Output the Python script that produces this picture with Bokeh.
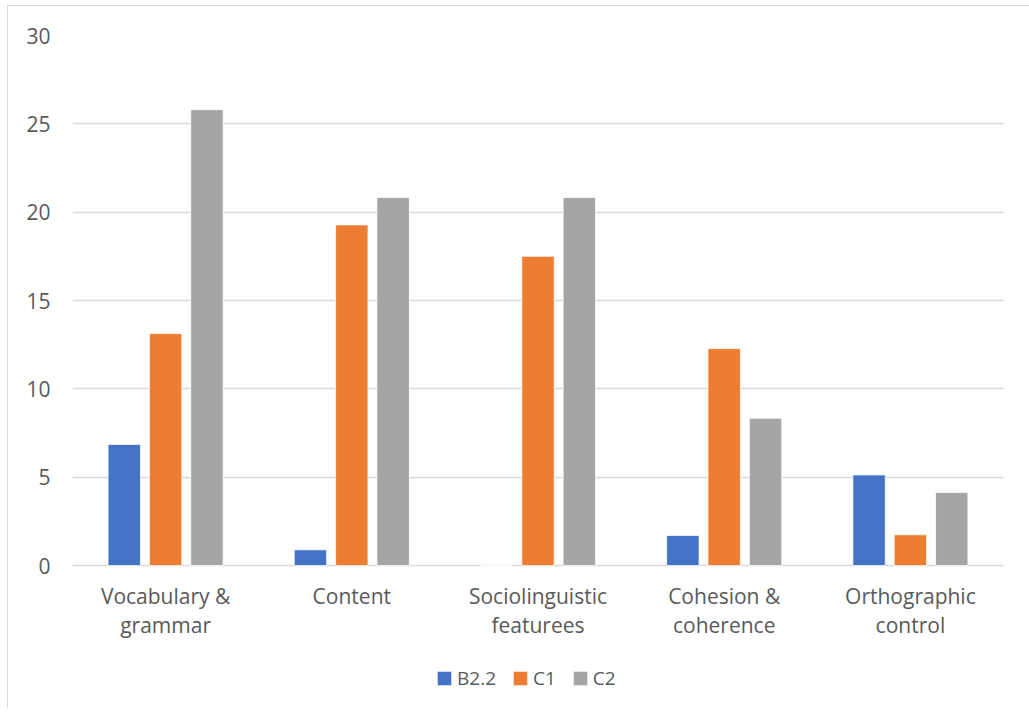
from bokeh.plotting import figure
from bokeh.models import ColumnDataSource, Range1d, FactorRange, Legend, LegendItem, FixedTicker
from bokeh.core.properties import value
from bokeh.transform import dodge
from bokeh.embed import file_html
from bokeh.resources import INLINE

categories = ["Vocabulary &\ngrammar", "Content", "Sociolinguistic\nfeaturees", "Cohesion &\ncoherence", "Orthographic\ncontrol"]
b22 = [6.85, 0.89, 0.0, 1.70, 5.13]
c1 = [13.13, 19.28, 17.5, 12.28, 1.74]
c2 = [25.8, 20.83, 20.83, 8.34, 4.13]
series_names = ["B2.2", "C1", "C2"]
colors = ["#4472C4", "#ED7D31", "#A5A5A5"]
y_ticks = [0, 5, 10, 15, 20, 25, 30]

src = ColumnDataSource(dict(cat=categories, b22=b22, c1=c1, c2=c2, zero=[0] * len(categories)))

FONT = "Open Sans"
TXT = "#595959"

# frame extends below zero to hold category labels and legend (0..30 -> 530 px)
p = figure(x_range=FactorRange(*categories), y_range=Range1d(-8.09, 30),
           frame_width=931, frame_height=673, output_backend="svg", toolbar_location=None,
           x_axis_location=None,
           min_border_left=64, min_border_right=26, min_border_top=29, min_border_bottom=0)
p.margin = (5, 0, 0, 7)
p.styles = {"border-left": "1px solid #d9d9d9", "border-top": "1px solid #d9d9d9"}
p.outline_line_color = None
p.x_range.range_padding = 0
p.x_range.factor_padding = 0

renderers = []
for key, off, col in zip(["b22", "c1", "c2"], [-0.222, 0.0, 0.222], colors):
    r = p.vbar(x=dodge("cat", off, range=p.x_range), top=key, width=0.174, bottom=0,
               source=src, fill_color=col, line_color="white", line_width=0.75)
    renderers.append(r)

# category labels
p.text(x="cat", y="zero", text="cat", source=src, y_offset=16,
       text_font=value(FONT), text_font_size="21px", text_color=TXT,
       text_align="center", text_baseline="top", text_line_height=1.05)

p.yaxis.ticker = FixedTicker(ticks=y_ticks)
p.yaxis.axis_line_color = None
p.yaxis.major_tick_line_color = None
p.yaxis.minor_tick_line_color = None
p.yaxis.major_tick_out = 0
p.yaxis.major_tick_in = 0
p.yaxis.major_label_text_font = FONT
p.yaxis.major_label_text_font_size = "21px"
p.yaxis.major_label_text_color = TXT
p.yaxis.major_label_standoff = 22

p.xgrid.grid_line_color = None
p.ygrid.grid_line_color = "#d9d9d9"
p.ygrid.grid_line_width = 1.5

legend = Legend(items=[LegendItem(label=n, renderers=[r]) for n, r in zip(series_names, renderers)],
                orientation="horizontal", location=(363, 17),
                label_text_font=FONT, label_text_font_size="19px", label_text_color=TXT,
                glyph_width=18, glyph_height=18, spacing=15, label_standoff=4,
                border_line_color=None, background_fill_alpha=0, padding=0, margin=0)
p.add_layout(legend, "center")

open("out.html", "w").write(file_html(p, INLINE))
